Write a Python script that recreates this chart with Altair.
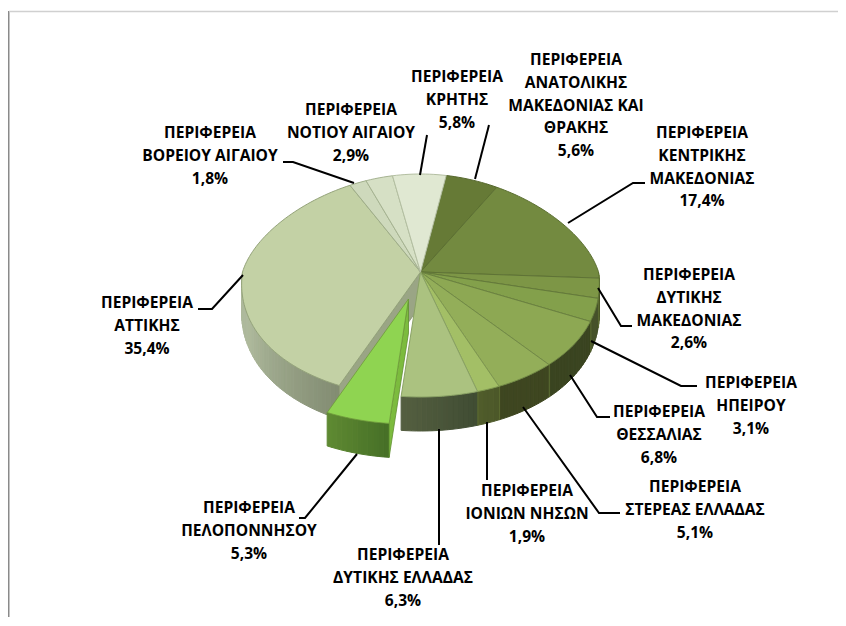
import math
import altair as alt

# ---- chart values
regions = [
    "ΠΕΡΙΦΕΡΕΙΑ\nΑΝΑΤΟΛΙΚΗΣ\nΜΑΚΕΔΟΝΙΑΣ ΚΑΙ\nΘΡΑΚΗΣ",
    "ΠΕΡΙΦΕΡΕΙΑ\nΚΕΝΤΡΙΚΗΣ\nΜΑΚΕΔΟΝΙΑΣ",
    "ΠΕΡΙΦΕΡΕΙΑ\nΔΥΤΙΚΗΣ\nΜΑΚΕΔΟΝΙΑΣ",
    "ΠΕΡΙΦΕΡΕΙΑ\nΗΠΕΙΡΟΥ",
    "ΠΕΡΙΦΕΡΕΙΑ\nΘΕΣΣΑΛΙΑΣ",
    "ΠΕΡΙΦΕΡΕΙΑ\nΣΤΕΡΕΑΣ ΕΛΛΑΔΑΣ",
    "ΠΕΡΙΦΕΡΕΙΑ\nΙΟΝΙΩΝ ΝΗΣΩΝ",
    "ΠΕΡΙΦΕΡΕΙΑ\nΔΥΤΙΚΗΣ ΕΛΛΑΔΑΣ",
    "ΠΕΡΙΦΕΡΕΙΑ\nΠΕΛΟΠΟΝΝΗΣΟΥ",
    "ΠΕΡΙΦΕΡΕΙΑ\nΑΤΤΙΚΗΣ",
    "ΠΕΡΙΦΕΡΕΙΑ\nΒΟΡΕΙΟΥ ΑΙΓΑΙΟΥ",
    "ΠΕΡΙΦΕΡΕΙΑ\nΝΟΤΙΟΥ ΑΙΓΑΙΟΥ",
    "ΠΕΡΙΦΕΡΕΙΑ\nΚΡΗΤΗΣ",
]
shares = [5.6, 17.4, 2.6, 3.1, 6.8, 5.1, 1.9, 6.3, 5.3, 35.4, 1.8, 2.9, 5.8]

# ---- styles
top_colors = ["#667a36", "#738a40", "#7d9646", "#83a04b", "#8da853", "#93ae59", "#a3bf66",
              "#abc280", "#8fd451", "#c3d1a5", "#ced9bc", "#d6e0c5", "#e0e8d2"]
wall_left = ["#667a36", "#738a40", "#4a5627", "#46522a", "#3a4420", "#3e4620", "#505c2b",
             "#555f40", "#5f8a33", "#aeb99c", "#ced9bc", "#d6e0c5", "#e0e8d2"]
wall_right = ["#667a36", "#738a40", "#4a5627", "#46522a", "#3a4420", "#3e4620", "#4c5829",
              "#3f4c33", "#466f26", "#828c72", "#ced9bc", "#d6e0c5", "#e0e8d2"]
edge_colors = ["#55672c", "#5c7032", "#5f7336", "#647a3a", "#6b8240", "#728a46", "#7f9850",
               "#8aa265", "#76b040", "#94a37a", "#a0ae8a", "#a6b392", "#b4bfa2"]

# ---- layout of the drawing (all in page pixels)
CX, CY = 420.5, 272.0
RX, RY_BACK, RY_FRONT = 178.0, 98.0, 125.0
START = 10.0
EXPLODED = 8
EXPLODE = (-12.0, 27.0)
label_pos = [(576, 60), (702, 133), (689, 275), (751, 383), (659, 412), (695, 487), (527, 491),
             (403, 555), (249, 508), (147, 303), (210, 133), (351, 110), (457, 77)]
leaders = [
    [(475, 179), (489, 125)],
    [(568, 223), (633, 183), (645, 183)],
    [(598, 288), (621, 326), (632, 326)],
    [(591, 341), (681, 386), (697, 386)],
    [(570, 375), (597, 417), (610, 417)],
    [(523, 407), (599, 513), (620, 513)],
    [(487, 422), (487, 480)],
    [(439, 429), (439, 545)],
    [(357, 454), (305, 518), (299, 518)],
    [(243, 275), (212, 309), (198, 309)],
    [(354, 183), (293, 162), (283, 162)],
    [(420, 175), (427, 135)],
]
frame = [
    ([(8.5, 11), (8.5, 626)], "#8a8a8a", 2.0),
    ([(9, 11.5), (846, 11.5)], "#d0d0d0", 1.5),
]


def rim(deg):
    t = math.radians(deg)
    s, c = math.sin(t), math.cos(t)
    p = 1 - 0.17 * c if c > 0 else 1 - 0.10 * c
    ry = RY_BACK if c > 0 else RY_FRONT
    return CX + RX * s * p, CY - ry * c


def depth(deg):
    return 28 + 6 * abs(math.cos(math.radians(deg)))


def mix(a, b, f):
    va = [int(a[i:i + 2], 16) for i in (1, 3, 5)]
    vb = [int(b[i:i + 2], 16) for i in (1, 3, 5)]
    return "#" + "".join(f"{round(x + (y - x) * f):02x}" for x, y in zip(va, vb))


features = []


def poly(points, fill, stroke=None, sw=1.0):
    ring = [[round(x, 2), round(y, 2)] for x, y in points]
    ring.append(ring[0])
    features.append({
        "type": "Feature",
        "geometry": {"type": "Polygon", "coordinates": [ring]},
        "properties": {"fill": fill, "stroke": stroke or fill, "sw": sw},
    })


def shift(pts, off):
    return [(x + off[0], y + off[1]) for x, y in pts]


def arc_steps(a, b):
    n = max(2, int(abs(b - a) / 1.5))
    return [a + (b - a) * i / n for i in range(n + 1)]


def walls(i, a, b, off=(0.0, 0.0)):
    lo, hi = max(a, 90.0), min(b, 270.0)
    if hi <= lo:
        return
    st = arc_steps(lo, hi)
    for k, (u, v) in enumerate(zip(st[:-1], st[1:])):
        f = 1 - (k + 0.5) / (len(st) - 1)
        col = mix(wall_left[i], wall_right[i], f)
        if i == 9:  # the long wall brightens away from the exploded slice
            col = mix(wall_right[i], wall_left[i], min(1.0, (k + 0.5) / (len(st) - 1) * 1.5))
        x1, y1 = rim(u)
        x2, y2 = rim(v)
        q = [(x1, y1), (x2, y2), (x2, y2 + depth(v)), (x1, y1 + depth(u))]
        poly(shift(q, off), col, col, 1.0)


angles = [START]
for v in shares:
    angles.append(angles[-1] + v * 3.6)

# walls of the main body, separators on top
for i, v in enumerate(shares):
    if i != EXPLODED:
        walls(i, angles[i], angles[i + 1])
for i in range(1, len(shares)):
    a = angles[i]
    if 100 < a < 190 and i not in (EXPLODED, EXPLODED + 1):
        x, y = rim(a)
        poly([(x, y), (x + 0.8, y), (x + 0.8, y + depth(a)), (x, y + depth(a))], "#5f7035", "#5f7035", 0.2)

# cut face of the long slice, seen through the gap left by the exploded slice
a_e0, a_e1 = angles[EXPLODED], angles[EXPLODED + 1]
x, y = rim(a_e1)
d = depth(a_e1)
poly([(CX, CY), (x, y), (x, y + d), (CX, CY + d)], "#9aa585", "#87926f", 0.8)

# top faces of the main body
for i, v in enumerate(shares):
    if i == EXPLODED:
        continue
    st = arc_steps(angles[i], angles[i + 1])
    poly([(CX, CY)] + [rim(t) for t in st], top_colors[i], edge_colors[i], 1.0)

# the exploded slice
walls(EXPLODED, a_e0, a_e1, EXPLODE)
x, y = rim(a_e0)
d = depth(a_e0)
poly(shift([(CX, CY), (x, y), (x, y + d), (CX, CY + d)], EXPLODE), "#7cbb3e", "#5f8f30", 0.8)
st = arc_steps(a_e0, a_e1)
poly(shift([(CX, CY)] + [rim(t) for t in st], EXPLODE), top_colors[EXPLODED], "#6f9a3a", 0.8)

# ---- tables
labels = [{"px": p[0], "py": p[1], "txt": f"{r}\n{str(v).replace('.', ',')}%"}
          for r, v, p in zip(regions, shares, label_pos)]
line_rows = []
for k, pts in enumerate(leaders):
    for o, (x, y) in enumerate(pts):
        line_rows.append({"id": f"l{k}", "o": o, "px": x, "py": y, "c": "#000000", "w": 2.0})
for k, (pts, c, w) in enumerate(frame):
    for o, (x, y) in enumerate(pts):
        line_rows.append({"id": f"f{k}", "o": o, "px": x, "py": y, "c": c, "w": w})

W, H = 830, 609
xs = alt.X("px:Q", axis=None, scale=alt.Scale(domain=[8, 8 + W], range=[0, W], clamp=True))
ys = alt.Y("py:Q", axis=None, scale=alt.Scale(domain=[8, 8 + H], range=[0, H], clamp=True))

shapes = alt.Chart(alt.Data(values=features, format=alt.DataFormat(type="json"))).mark_geoshape().encode(
    fill=alt.Fill("properties.fill:N", scale=None),
    stroke=alt.Stroke("properties.stroke:N", scale=None),
    strokeWidth=alt.StrokeWidth("properties.sw:Q", scale=None),
).project(type="identity", scale=1, translate=[-8, -8])

lines = alt.Chart(alt.Data(values=line_rows)).mark_line(strokeCap="butt", clip=False).encode(
    x=xs, y=ys, detail="id:N", order="o:Q",
    color=alt.Color("c:N", scale=None),
    strokeWidth=alt.StrokeWidth("w:Q", scale=None),
)

texts = alt.Chart(alt.Data(values=labels)).mark_text(
    font="Open Sans", fontWeight="bold", fontSize=15.6, color="#000000",
    align="center", baseline="middle", lineBreak="\n", lineHeight=22.8,
).encode(x=xs, y=ys, text="txt:N")

chart = alt.layer(shapes, lines, texts).properties(
    width=W, height=H, padding=0, autosize=alt.AutoSizeParams(type="none"),
    background="#ffffff",
).configure_view(stroke=None)

chart.save("out.html", embed_options={"renderer": "svg", "actions": False})
